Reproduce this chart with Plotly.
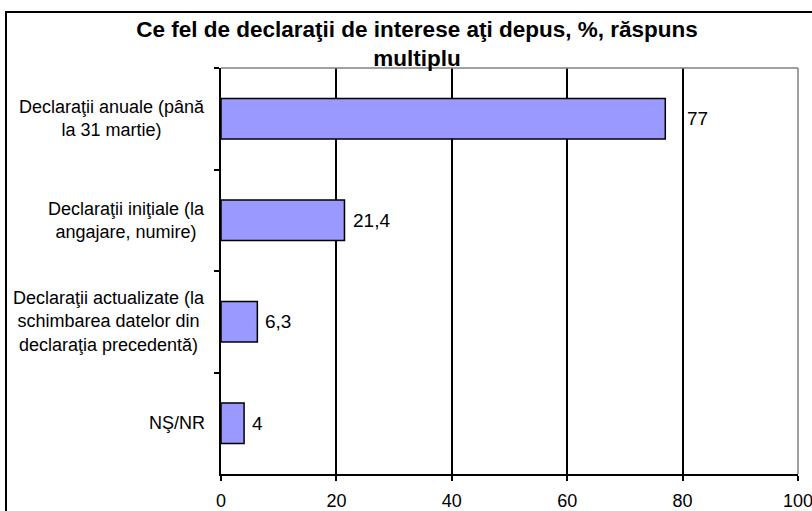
import plotly.graph_objects as go

categories = [
    "Declaraţii anuale (până<br>la 31 martie)",
    "Declaraţii iniţiale (la<br>angajare, numire)",
    "Declaraţii actualizate (la<br>schimbarea datelor din<br>declaraţia precedentă)",
    "NŞ/NR",
]
values = [77, 21.4, 6.3, 4]
value_labels = ["77", "21,4", "6,3", "4"]
x_ticks = [0, 20, 40, 60, 80, 100]

FONT = "Liberation Sans, Arial, sans-serif"
label_shift = [20, 7, 6, 6]

fig = go.Figure()
fig.add_trace(go.Bar(
    x=values, y=categories, orientation="h",
    marker=dict(color="#9999FF", line=dict(color="black", width=1.5)),
    hoverinfo="skip",
))

annotations = []
for c in categories:
    annotations.append(dict(
        x=0, xref="paper", y=c, yref="y", text=c, showarrow=False,
        xanchor="right", yanchor="middle", align="center", xshift=-14,
        font=dict(family=FONT, size=18, color="black"),
    ))
for c, v, t, s in zip(categories, values, value_labels, label_shift):
    annotations.append(dict(
        x=v, xref="x", y=c, yref="y", text=t, showarrow=False,
        xanchor="left", yanchor="middle", xshift=s,
        font=dict(family=FONT, size=19, color="black"),
    ))

shapes = [
    dict(type="line", xref="paper", yref="paper", x0=0, x1=1, y0=1, y1=1,
         line=dict(color="#808080", width=1.5), layer="above"),
    dict(type="line", xref="paper", yref="paper", x0=1, x1=1, y0=0, y1=1,
         line=dict(color="#808080", width=1.5), layer="above"),
    dict(type="rect", xref="paper", yref="paper",
         x0=(6 - 221) / 577, x1=1.2, y0=-0.3, y1=(474 - 12) / 406,
         line=dict(color="black", width=2), fillcolor="rgba(0,0,0,0)", layer="above"),
]

fig.update_layout(
    width=812, height=511,
    margin=dict(l=221, r=14, t=68, b=37, autoexpand=False),
    paper_bgcolor="white", plot_bgcolor="white",
    showlegend=False,
    bargap=0.6,
    font=dict(family=FONT, color="black"),
    title=dict(
        text="<b>Ce fel de declaraţii de interese aţi depus, %, răspuns<br>multiplu</b>",
        x=417 / 812, xanchor="center", xref="container",
        y=1 - 37 / 511, yanchor="top", yref="container",
        font=dict(family=FONT, size=22.5, color="black"),
    ),
    xaxis=dict(
        range=[0, 100], tickvals=x_ticks, ticktext=[str(v) for v in x_ticks],
        showgrid=True, gridcolor="black", gridwidth=1.5,
        showline=True, linecolor="black", linewidth=2,
        ticks="outside", ticklen=5, tickcolor="black", tickwidth=1.5,
        tickfont=dict(family=FONT, size=18, color="black"),
        ticklabelstandoff=4, ticklabeloverflow="allow",
        zeroline=False, fixedrange=True, automargin=False,
    ),
    yaxis=dict(
        autorange="reversed", showticklabels=False,
        showline=True, linecolor="black", linewidth=2,
        ticks="outside", ticklen=5, tickcolor="black", tickwidth=1.5,
        tickson="boundaries", showgrid=False, fixedrange=True, automargin=False,
    ),
    annotations=annotations,
    shapes=shapes,
)

fig.write_html(
    "out.html",
    config={"displayModeBar": False},
    post_script="document.body.style.margin='0';document.body.style.overflow='hidden';",
)
